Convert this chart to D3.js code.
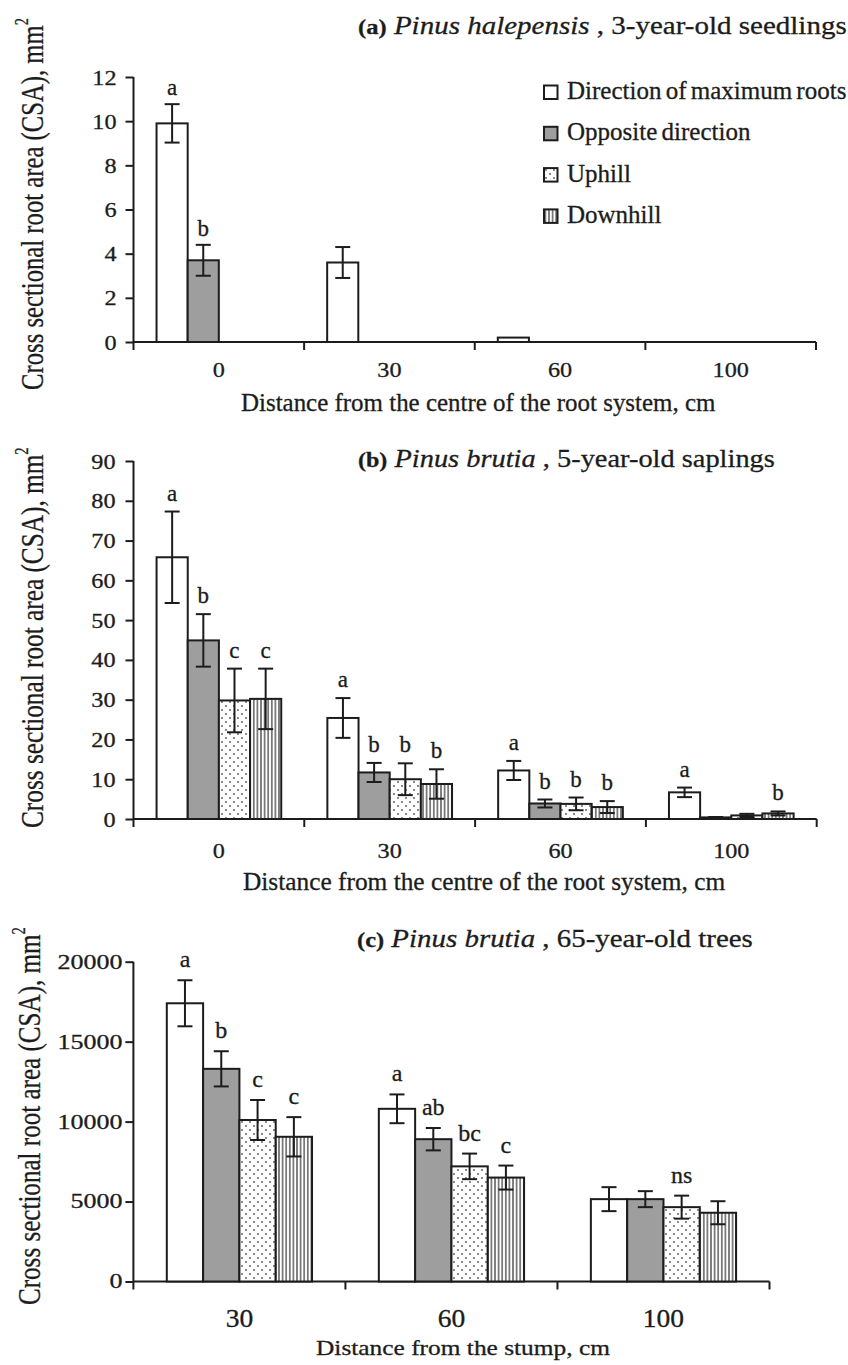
<!DOCTYPE html>
<html>
<head>
<meta charset="utf-8">
<script src="https://cdn.jsdelivr.net/npm/d3@7"></script>
<style>
  body { margin: 0; background: #fff; }
  svg text { font-family: "Liberation Serif", "Times New Roman", serif; fill: #1c1c1c; stroke: #1c1c1c; stroke-width: 0.3px; }
</style>
</head>
<body>
<svg id="chart" width="848" height="1365"></svg>
<script>
// series shared by the three panels
const seriesNames = ["Direction of maximum roots", "Opposite direction", "Uphill", "Downhill"];

// (a) Pinus halepensis, 3-year-old seedlings
const catsA = ["0", "30", "60", "100"];
const meanA = [[9.9, 3.7, 0, 0], [3.6, 0, 0, 0], [0.2, 0, 0, 0], [0, 0, 0, 0]];
const errA = [[0.87, 0.7, 0, 0], [0.7, 0, 0, 0], [0, 0, 0, 0], [0, 0, 0, 0]];
const lettersA = [["a", "b", "", ""], ["", "", "", ""], ["", "", "", ""], ["", "", "", ""]];
const yTicksA = [0, 2, 4, 6, 8, 10, 12];

// (b) Pinus brutia, 5-year-old saplings
const catsB = ["0", "30", "60", "100"];
const meanB = [[65.8, 44.9, 29.8, 30.2], [25.4, 11.7, 10.0, 8.8], [12.2, 3.9, 3.8, 3.0], [6.7, 0.4, 0.9, 1.4]];
const errB = [[11.5, 6.6, 8.0, 7.6], [5.0, 2.4, 4.0, 3.7], [2.4, 1.0, 1.6, 1.5], [1.2, 0.1, 0.4, 0.5]];
const lettersB = [["a", "b", "c", "c"], ["a", "b", "b", "b"], ["a", "b", "b", "b"], ["a", "", "", "b"]];
const yTicksB = [0, 10, 20, 30, 40, 50, 60, 70, 80, 90];

// (c) Pinus brutia, 65-year-old trees
const catsC = ["30", "60", "100"];
const meanC = [[17400, 13300, 10100, 9050], [10800, 8900, 7200, 6500], [5150, 5150, 4650, 4300]];
const errC = [[1440, 1100, 1250, 1230], [900, 700, 800, 750], [750, 500, 720, 720]];
const lettersC = [["a", "b", "c", "c"], ["a", "ab", "bc", "c"], ["", "", "ns", ""]];
const yTicksC = [0, 5000, 10000, 15000, 20000];

const INK = "#1c1c1c";
const svg = d3.select("#chart");

// fill patterns
const defs = svg.append("defs");
const dots = defs.append("pattern").attr("id", "dots")
  .attr("patternUnits", "userSpaceOnUse").attr("width", 8).attr("height", 8);
dots.append("rect").attr("width", 8).attr("height", 8).attr("fill", "#fff");
dots.append("circle").attr("cx", 2).attr("cy", 2).attr("r", 0.9).attr("fill", "#555");
dots.append("circle").attr("cx", 6).attr("cy", 6).attr("r", 0.9).attr("fill", "#555");
const vl = defs.append("pattern").attr("id", "vlines")
  .attr("patternUnits", "userSpaceOnUse").attr("width", 3.6).attr("height", 10);
vl.append("rect").attr("width", 3.6).attr("height", 10).attr("fill", "#fff");
vl.append("line").attr("x1", 1.8).attr("x2", 1.8).attr("y1", 0).attr("y2", 10)
  .attr("stroke", "#222").attr("stroke-width", 1.1);

const fills = ["#fff", "#9e9e9e", "url(#dots)", "url(#vlines)"];

// stretch a text so it spans [x0, x1]
function fitText(t, x0, x1, base) {
  const w = t.node().getBBox().width;
  t.attr("transform", `translate(${x0},${base}) scale(${(x1 - x0) / w},1)`);
}

function fitVertical(t, x, yStart, yEnd) {
  const w = t.node().getBBox().width;
  t.attr("transform", `translate(${x},${yStart}) rotate(-90) scale(${(yStart - yEnd) / w},1)`);
}

function title(g, tag, species, rest, p) {
  const t = g.append("text").attr("font-size", 26);
  t.append("tspan").attr("font-weight", "bold").attr("font-size", 22).text(tag);
  t.append("tspan").text(" ");
  t.append("tspan").attr("font-style", "italic").text(species);
  t.append("tspan").text(rest);
  fitText(t, p[0], p[1], p[2]);
}

function drawPanel(p) {
  const g = svg.append("g");
  const x0 = d3.scaleBand().domain(p.cats).range([p.left, p.right]);
  const x1 = d3.scaleBand().domain(d3.range(seriesNames.length))
    .range([0, x0.bandwidth()]).paddingOuter(p.padOuter);
  const y = d3.scaleLinear().domain([0, d3.max(p.yTicks)]).range([p.y0, p.yTop]);

  // y axis
  const ya = g.append("g").attr("transform", `translate(${p.left},0)`)
    .call(d3.axisLeft(y).tickValues(p.yTicks).tickFormat(d3.format("d"))
      .tickSize(8).tickPadding(p.tickPad).tickSizeOuter(0));
  ya.select(".domain").remove();
  ya.selectAll(".tick line").attr("stroke", INK).attr("stroke-width", 2);
  ya.selectAll(".tick text")
    .attr("font-size", p.tickFont)
    .attr("x", -(8 + p.tickPad) / p.tickSX)
    .attr("transform", `scale(${p.tickSX},1)`);
  g.append("line").attr("x1", p.left).attr("x2", p.left)
    .attr("y1", y(d3.max(p.yTicks))).attr("y2", p.y0)
    .attr("stroke", INK).attr("stroke-width", 2);

  // x axis with ticks at group boundaries
  g.append("line").attr("x1", p.left).attr("x2", p.right).attr("y1", p.y0).attr("y2", p.y0)
    .attr("stroke", INK).attr("stroke-width", 2);
  const bounds = p.cats.map(c => x0(c)).concat([p.right]);
  g.selectAll(".bnd").data(bounds).join("line")
    .attr("x1", d => d).attr("x2", d => d).attr("y1", p.y0).attr("y2", p.y0 + 8)
    .attr("stroke", INK).attr("stroke-width", 2);
  const xa = g.append("g").attr("transform", `translate(0,${p.y0})`)
    .call(d3.axisBottom(x0).tickSize(0));
  xa.select(".domain").remove();
  xa.selectAll(".tick text")
    .attr("font-size", p.catFont)
    .attr("dy", 0).attr("y", p.catBase - p.y0)
    .attr("transform", "scale(1.1,1)");

  // bars
  const cells = [];
  p.cats.forEach((c, i) => seriesNames.forEach((s, j) => {
    cells.push({ cx: x0(c) + x1(j), j, v: p.mean[i][j], e: p.err[i][j], lab: p.letters[i][j] });
  }));
  const bw = x1.bandwidth();
  g.selectAll(".bar").data(cells).join("rect")
    .attr("x", d => d.cx).attr("width", bw)
    .attr("y", d => y(d.v)).attr("height", d => p.y0 - y(d.v))
    .attr("fill", d => fills[d.j]).attr("stroke", INK).attr("stroke-width", 2);

  // error bars
  const eb = cells.filter(d => d.e > 0);
  const mid = d => d.cx + bw / 2;
  g.selectAll(".ev").data(eb).join("line")
    .attr("x1", mid).attr("x2", mid)
    .attr("y1", d => y(d.v + d.e)).attr("y2", d => y(d.v - d.e))
    .attr("stroke", INK).attr("stroke-width", 2);
  ["hi", "lo"].forEach(k => {
    g.selectAll(".cap" + k).data(eb).join("line")
      .attr("x1", d => mid(d) - 7.5).attr("x2", d => mid(d) + 7.5)
      .attr("y1", d => y(k === "hi" ? d.v + d.e : d.v - d.e))
      .attr("y2", d => y(k === "hi" ? d.v + d.e : d.v - d.e))
      .attr("stroke", INK).attr("stroke-width", 2);
  });

  // significance letters
  g.selectAll(".lab").data(cells.filter(d => d.lab)).join("text")
    .attr("x", mid).attr("y", d => y(d.v + d.e) - p.letterGap)
    .attr("text-anchor", "middle").attr("font-size", p.letterFont)
    .text(d => d.lab);

  // titles and axis labels
  title(g, p.title[0], p.title[1], p.title[2], p.titlePos);
  const xl = g.append("text").attr("font-size", p.xlabelFont).text(p.xlabel);
  fitText(xl, p.xlabelPos[0], p.xlabelPos[1], p.xlabelPos[2]);
  const yl = g.append("text").attr("font-size", 31);
  yl.append("tspan").text("Cross sectional root area (CSA), mm");
  yl.append("tspan").attr("font-size", 18).attr("dy", -15).text("2");
  fitVertical(yl, p.ylabelPos[0], p.ylabelPos[1], p.ylabelPos[2]);

  return g;
}

const gA = drawPanel({
  cats: catsA, mean: meanA, err: errA, letters: lettersA, yTicks: yTicksA,
  left: 133.5, right: 816, y0: 342, yTop: 77, padOuter: 0.74,
  tickPad: 9, tickFont: 22, tickSX: 1.1, catFont: 22, catBase: 377,
  letterGap: 9, letterFont: 23,
  title: ["(a)", "Pinus halepensis", " , 3-year-old seedlings"], titlePos: [358, 847, 34],
  xlabel: "Distance from the centre of the root system, cm", xlabelFont: 25, xlabelPos: [241, 716, 411],
  ylabelPos: [43, 390, 18]
});

const gB = drawPanel({
  cats: catsB, mean: meanB, err: errB, letters: lettersB, yTicks: yTicksB,
  left: 133.5, right: 816.7, y0: 819, yTop: 461, padOuter: 0.74,
  tickPad: 10, tickFont: 22, tickSX: 1.1, catFont: 22, catBase: 858,
  letterGap: 11, letterFont: 23,
  title: ["(b)", "Pinus brutia", " , 5-year-old saplings"], titlePos: [358, 775, 467],
  xlabel: "Distance from the centre of the root system, cm", xlabelFont: 25, xlabelPos: [243, 726, 890],
  ylabelPos: [43, 828, 447]
});

const gC = drawPanel({
  cats: catsC, mean: meanC, err: errC, letters: lettersC, yTicks: yTicksC,
  left: 133.4, right: 769.5, y0: 1281.5, yTop: 961.7, padOuter: 0.92,
  tickPad: 3, tickFont: 20, tickSX: 1.3, catFont: 25, catBase: 1327,
  letterGap: 13, letterFont: 24,
  title: ["(c)", "Pinus brutia", " , 65-year-old trees"], titlePos: [357, 753, 947],
  xlabel: "Distance from the stump, cm", xlabelFont: 22, xlabelPos: [316, 610, 1355],
  ylabelPos: [40, 1305, 927]
});

// legend (panel a)
const leg = gA.append("g");
seriesNames.forEach((s, i) => {
  const base = 99 + i * 41.3;
  leg.append("rect").attr("x", 544).attr("y", base - 13.5).attr("width", 13.5).attr("height", 13.5)
    .attr("fill", fills[i]).attr("stroke", INK).attr("stroke-width", 2);
  leg.append("text").attr("x", 567).attr("y", base).attr("font-size", 25)
    .attr("word-spacing", -2).text(s);
});
</script>
</body>
</html>
